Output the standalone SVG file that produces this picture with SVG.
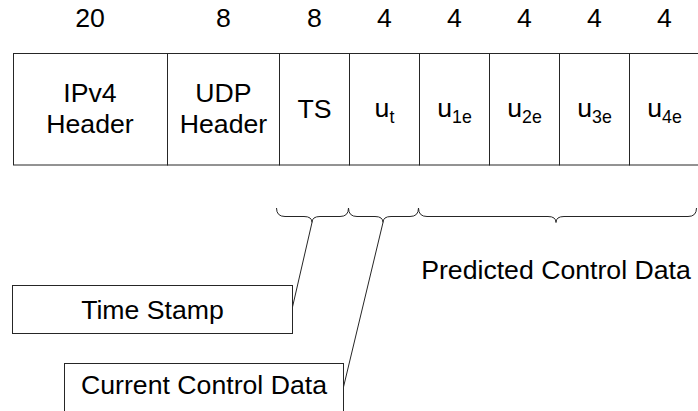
<svg xmlns="http://www.w3.org/2000/svg" width="698" height="411" viewBox="0 0 698 411">
  <style>
    .box { fill: #ffffff; stroke: #262626; stroke-width: 1; }
    .line { fill: none; stroke: #262626; stroke-width: 1; }
    text { font-family: "Liberation Sans", Arial, sans-serif; font-size: 26.67px; fill: #000000; text-anchor: middle; }
    .sub { font-size: 17.8px; }
  </style>

  <!-- Packet fields: size label above, field cell below -->
  <g id="field-ipv4">
    <text x="90" y="27">20</text>
    <rect class="box" x="13.5" y="53.5" width="154" height="111.5"/>
    <text x="90" y="101.5">IPv4</text>
    <text x="90" y="133">Header</text>
  </g>
  <g id="field-udp">
    <text x="223.5" y="27">8</text>
    <rect class="box" x="167.5" y="53.5" width="112" height="111.5"/>
    <text x="223.5" y="101.5">UDP</text>
    <text x="223.5" y="133">Header</text>
  </g>
  <g id="field-ts">
    <text x="314.5" y="27">8</text>
    <rect class="box" x="279.5" y="53.5" width="70" height="111.5"/>
    <text x="314.5" y="118">TS</text>
  </g>
  <g id="field-ut">
    <text x="384.5" y="27">4</text>
    <rect class="box" x="349.5" y="53.5" width="70" height="111.5"/>
    <text x="384.5" y="117">u<tspan class="sub" dy="6">t</tspan></text>
  </g>
  <g id="field-u1e">
    <text x="454.5" y="27">4</text>
    <rect class="box" x="419.5" y="53.5" width="70" height="111.5"/>
    <text x="454.5" y="117">u<tspan class="sub" dy="6">1e</tspan></text>
  </g>
  <g id="field-u2e">
    <text x="524.5" y="27">4</text>
    <rect class="box" x="489.5" y="53.5" width="70" height="111.5"/>
    <text x="524.5" y="117">u<tspan class="sub" dy="6">2e</tspan></text>
  </g>
  <g id="field-u3e">
    <text x="594.5" y="27">4</text>
    <rect class="box" x="559.5" y="53.5" width="70" height="111.5"/>
    <text x="594.5" y="117">u<tspan class="sub" dy="6">3e</tspan></text>
  </g>
  <g id="field-u4e">
    <text x="664.5" y="27">4</text>
    <rect class="box" x="629.5" y="53.5" width="70" height="111.5"/>
    <text x="664.5" y="117">u<tspan class="sub" dy="6">4e</tspan></text>
  </g>

  <!-- Callout boxes -->
  <g id="label-time-stamp">
    <rect class="box" x="12.5" y="285.5" width="280" height="48"/>
    <text x="152.5" y="318.5">Time Stamp</text>
  </g>
  <g id="label-current-control">
    <rect class="box" x="64.5" y="363.5" width="279" height="70"/>
    <text x="204" y="394">Current Control Data</text>
  </g>
  <g id="label-predicted-control">
    <text x="556" y="278.5">Predicted Control Data</text>
  </g>

  <!-- Braces and leader lines -->
  <g id="connectors">
    <path class="line" d="M276.5,208 Q276.5,216.5 285,216.5 L304,216.5 Q312,216.5 312,222.5 Q312,216.5 320,216.5 L340,216.5 Q348.5,216.5 348.5,208"/>
    <path class="line" d="M348.5,208 Q348.5,216.5 357,216.5 L375,216.5 Q383,216.5 383,222.5 Q383,216.5 391,216.5 L410,216.5 Q418.5,216.5 418.5,208"/>
    <path class="line" d="M418.5,208 Q418.5,216.5 427,216.5 L548,216.5 Q556,216.5 556,222.5 Q556,216.5 564,216.5 L688,216.5 Q696.5,216.5 696.5,208"/>
    <line class="line" x1="312" y1="222.5" x2="292.5" y2="307"/>
    <line class="line" x1="383" y1="222.5" x2="343.5" y2="387"/>
  </g>
</svg>
